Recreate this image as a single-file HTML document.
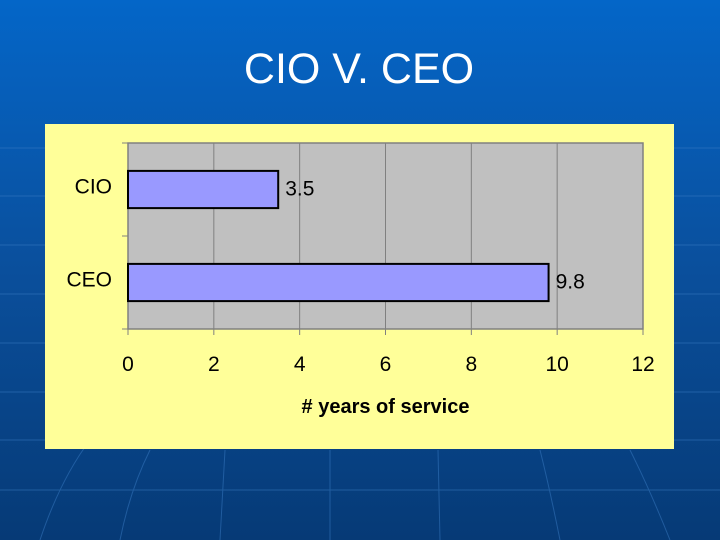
<!DOCTYPE html>
<html><head><meta charset="utf-8"><style>
body{margin:0;width:720px;height:540px;overflow:hidden;font-family:"Liberation Sans",sans-serif;}
#bg{position:absolute;left:0;top:0;width:720px;height:540px;background:linear-gradient(180deg,#0466c8 0%,#0a4f9c 50%,#063a76 100%);}
</style></head><body>
<div id="bg"></div>
<svg width="720" height="540" style="position:absolute;left:0;top:0">
<g stroke="#3a7cc4" stroke-width="1" opacity="0.5" fill="none">
<path d="M0,148 L720,148 M0,196 L720,196 M0,245 L720,245 M0,294 L720,294 M0,343 L720,343 M0,392 L720,392 M0,440 L720,440 M0,490 L720,490"/>
<path d="M40,540 Q60,480 90,440 M120,540 Q130,490 150,450 M220,540 L225,450 M330,540 L330,450 M440,540 L438,450 M560,540 Q550,490 540,450 M670,540 Q650,490 630,450"/>
</g>
<text x="359" y="83" text-anchor="middle" font-size="43" fill="#fff">CIO V. CEO</text>
<rect x="45" y="124" width="629" height="325" fill="#ffff99"/>
<g id="chart"></g>
</svg>
<script>
const categories=["CIO","CEO"];
const values=[3.5,9.8];
const valueLabels=["3.5","9.8"];
const ticks=[0,2,4,6,8,10,12];
const L=128,R=643,T=143,B=329,ns="http://www.w3.org/2000/svg";
const xs=v=>L+(v-0)/(12-0)*(R-L);
const band=(B-T)/categories.length;
const g=document.getElementById('chart');
function mk(t,a,txt){const e=document.createElementNS(ns,t);for(const k in a)e.setAttribute(k,a[k]);if(txt!==undefined)e.textContent=txt;g.appendChild(e);return e;}
let pa=mk('rect',{x:L,y:T,width:R-L,height:B-T,fill:'#c0c0c0',stroke:'#808080','stroke-width':1.5});


ticks.forEach(t=>{
 let ln=mk('line',{x1:xs(t),x2:xs(t),y1:T,y2:B+6,stroke:'#808080','stroke-width':1});
 
 
 let tx=mk('text',{x:xs(t),y:371,'text-anchor':'middle','font-size':21,fill:'#000'},String(t));
 
 
});
for(let i=0;i<=categories.length;i++){
 let ln=mk('line',{x1:L-6,x2:L,y1:T+i*band,y2:T+i*band,stroke:'#808080'});
 
 
}
categories.forEach((c,i)=>{
 const cy=T+band*(i+0.5);
 const h=band*0.4;
 let r=mk('rect',{x:L,y:cy-h/2,width:xs(values[i])-L,height:h,fill:'#9999ff',stroke:'#000','stroke-width':2});
 
 
 let lb=mk('text',{x:xs(values[i])+7,y:cy+(i===0?6:6),'font-size':21,fill:'#000','dominant-baseline':'auto'},valueLabels[i]);
 
 
 let cl=mk('text',{x:L-16,y:cy+4,'text-anchor':'end','font-size':21,fill:'#000'},c);
 
 
});
let at=mk('text',{x:(L+R)/2,y:413,'text-anchor':'middle','font-size':20,'font-weight':'bold',fill:'#000'},'# years of service');


</script>
</body></html>
